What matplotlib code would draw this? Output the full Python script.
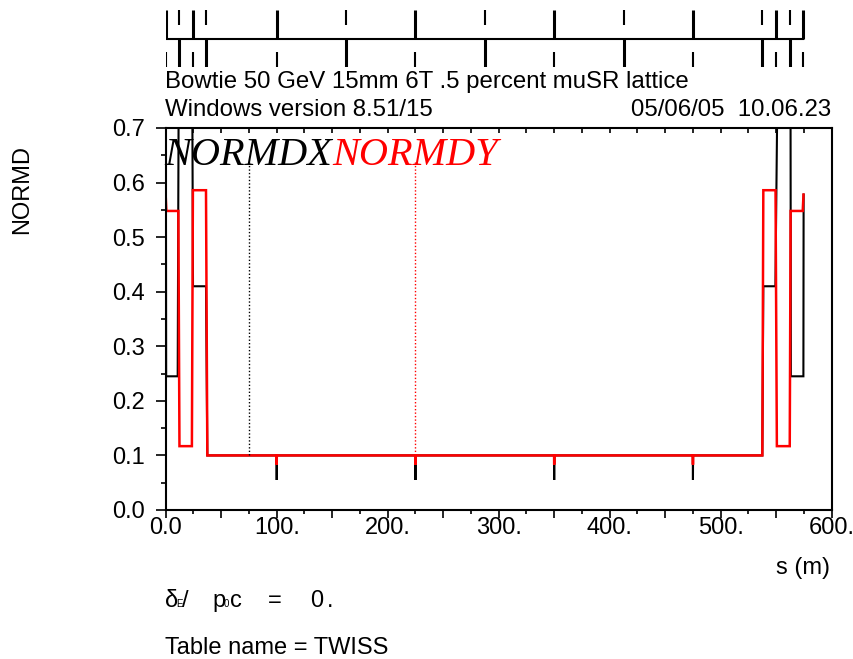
import numpy as np
import matplotlib
matplotlib.use('Agg')
import matplotlib.pyplot as plt
from matplotlib.ticker import MultipleLocator, FixedLocator

plt.rcParams['font.family'] = ['Liberation Sans', 'DejaVu Sans']

W, H = 854, 659
FS = 17

# NORMDX (black) - element boundaries along s (m)
dx_s = [0.0, 0.4, 10.8, 12.0, 23.6, 24.6, 36.3, 37.5,
        99.9, 100.0, 100.1, 224.9, 225.0, 225.1,
        349.9, 350.0, 350.1, 474.9, 475.0, 475.1,
        537.5, 538.4, 549.3, 552.0, 562.8, 563.2, 574.5, 574.7]
dx_v = [0.95, 0.245, 0.245, 0.95, 0.95, 0.41, 0.41, 0.10,
        0.10, 0.055, 0.10, 0.10, 0.055, 0.10,
        0.10, 0.055, 0.10, 0.10, 0.055, 0.10,
        0.10, 0.41, 0.41, 0.95, 0.95, 0.245, 0.245, 0.578]

# NORMDY (red)
dy_s = [0.0, 0.6, 11.4, 12.4, 23.6, 24.5, 36.3, 37.5,
        99.9, 100.0, 100.1, 224.9, 225.0, 225.1,
        349.9, 350.0, 350.1, 474.9, 475.0, 475.1,
        537.5, 538.4, 549.4, 550.6, 562.2, 563.0, 573.9, 574.6]
dy_v = [0.576, 0.548, 0.548, 0.117, 0.117, 0.586, 0.586, 0.10,
        0.10, 0.083, 0.10, 0.10, 0.083, 0.10,
        0.10, 0.083, 0.10, 0.10, 0.083, 0.10,
        0.10, 0.586, 0.586, 0.117, 0.117, 0.548, 0.548, 0.578]

# dotted markers
dot_dx_s, dot_dy_s = 75.0, 225.0
dot_lo, dot_hi = 0.10, 0.642

# lattice layout: quad positions and polarity (+1 focusing, -1 defocusing)
quad_s = [0.0, 12.2, 24.3, 36.5, 100.0, 162.5, 225.0, 287.5,
          350.0, 412.5, 475.0, 537.5, 550.0, 562.0, 574.3]
quad_pol = [1, -1, 1, -1, 1, -1, 1, -1, 1, -1, 1, -1, 1, -1, 1]
lattice_len = 574.3

x_ticks = [0, 100, 200, 300, 400, 500, 600]
x_ticklabels = ['0.0', '100.', '200.', '300.', '400.', '500.', '600.']
y_ticks = [0.0, 0.1, 0.2, 0.3, 0.4, 0.5, 0.6, 0.7]


def fx(x):
    return x / W


def fy(y):
    return 1 - y / H


fig = plt.figure(figsize=(W / 100, H / 100), dpi=100)

# main plot
x0, x1, ytop, ybot = 165.7, 831.7, 128, 510
ax = fig.add_axes([fx(x0), fy(ybot), fx(x1 - x0), (ybot - ytop) / H])
ax.plot(dx_s, dx_v, color='black', lw=1.5, solid_joinstyle='miter')
ax.plot(dy_s, dy_v, color='red', lw=1.8, solid_joinstyle='miter')
ax.vlines(dot_dx_s, dot_lo, dot_hi, colors='black', linestyles=(0, (1, 1.5)), lw=1.0)
ax.vlines(dot_dy_s, dot_lo, dot_hi, colors='red', linestyles=(0, (1, 1.5)), lw=1.0)
ax.set_xlim(0, 600)
ax.set_ylim(0, 0.7)

for sp in ax.spines.values():
    sp.set_linewidth(1.5)

ax.xaxis.set_major_locator(MultipleLocator(50))
ax.xaxis.set_minor_locator(MultipleLocator(25))
ax.set_xticklabels([])
ax.yaxis.set_major_locator(FixedLocator(y_ticks))
ax.yaxis.set_minor_locator(MultipleLocator(0.05))
ax.set_yticklabels(['%.1f' % v for v in y_ticks])
ax.tick_params(axis='y', which='major', length=7, width=1.2, pad=8, labelsize=FS, direction='out')
ax.tick_params(axis='y', which='minor', length=3.5, width=1.2, direction='out')
ax.tick_params(axis='x', which='major', length=6, width=1.2, direction='out')
ax.tick_params(axis='x', which='minor', length=3, width=1.2, direction='out')

# x labels at every 100 (ticks every 50)
for xv, lab in zip(x_ticks, x_ticklabels):
    ax.text(xv, -0.018, lab, ha='center', va='top', fontsize=FS,
            transform=ax.get_xaxis_transform())

# top spine ticks point inward
secx = ax.secondary_xaxis('top')
secx.xaxis.set_major_locator(MultipleLocator(25))
secx.tick_params(axis='x', which='major', direction='in', length=3.5, width=1.2, labeltop=False)
secx.spines['top'].set_visible(False)

ybase = 0.7 - 0.068
t = ax.text(-1.5, ybase, 'NORMDX', fontsize=29, family='Liberation Serif', style='italic',
            color='black', va='baseline', ha='left')
fig.canvas.draw()
bb = t.get_window_extent()
xr = ax.transData.inverted().transform((bb.x1, 0))[0]
ax.text(xr, ybase, 'NORMDY', fontsize=29, family='Liberation Serif', style='italic',
        color='red', va='baseline', ha='left')

fig.text(fx(22), fy(189), 'NORMD', rotation=90, ha='center', va='center', fontsize=FS)
fig.text(fx(803), fy(568), 's (m)', ha='center', va='center', fontsize=FS)

# header
fig.text(fx(165), fy(88), 'Bowtie 50 GeV 15mm 6T .5 percent muSR lattice', fontsize=17.3, va='baseline')
fig.text(fx(165), fy(116), 'Windows version 8.51/15', fontsize=17.3, va='baseline')
fig.text(fx(831), fy(116), '05/06/05  10.06.23', fontsize=17.3, va='baseline', ha='right')

# footer
fig.text(fx(165), fy(607), '\u03b4', fontsize=FS, va='baseline')
fig.text(fx(176.5), fy(607), 'E', fontsize=7, va='baseline')
fig.text(fx(182.5), fy(607), '/', fontsize=FS, va='baseline')
fig.text(fx(212), fy(607), 'p', fontsize=FS, va='baseline')
fig.text(fx(224), fy(607), '0', fontsize=7, va='baseline')
fig.text(fx(230), fy(607), 'c', fontsize=FS, va='baseline')
fig.text(fx(268), fy(607), '=', fontsize=FS, va='baseline')
fig.text(fx(310), fy(607), '0', fontsize=FS, va='baseline')
fig.text(fx(327), fy(607), '.', fontsize=FS, va='baseline')
fig.text(fx(165), fy(654), 'Table name = TWISS', fontsize=FS, va='baseline')

# lattice layout strip
lat = fig.add_axes([fx(x0), fy(67), fx(x1 - x0), (67 - 10) / H])
lat.set_xlim(0, 600)
lat.set_ylim(-1, 1)
lat.axis('off')
lat.plot([0, lattice_len], [0, 0], color='black', lw=1.5)
for s, p in zip(quad_s, quad_pol):
    lat.plot([s, s], [0, p], color='black', lw=2.2, solid_capstyle='butt')
    lat.plot([s, s], [-p * 0.47, -p], color='black', lw=1.5, solid_capstyle='butt')

fig.savefig('out.png', dpi=100)
